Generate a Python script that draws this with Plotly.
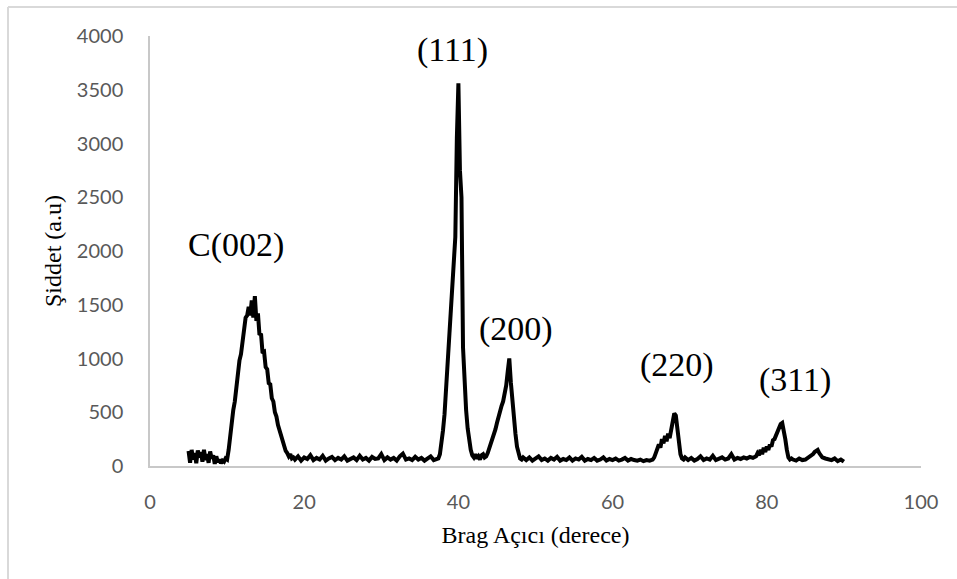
import plotly.graph_objects as go

# ---- data (2-theta in degrees, intensity in a.u.) ----
two_theta_a = [5.0, 5.2, 5.4, 5.6, 5.8, 6.0, 6.2, 6.4, 6.6, 6.8, 7.0, 7.2, 7.4, 7.6, 7.8,
               8.0, 8.2, 8.4, 8.6, 8.8, 9.0, 9.2, 9.4, 9.6, 9.8]
intensity_a = [140, 30, 150, 60, 120, 25, 145, 80, 130, 40, 150, 55, 110, 30, 135,
               70, 100, 20, 90, 35, 60, 25, 50, 40, 70]

two_theta_c002 = [10.0, 10.2, 10.4, 10.6, 10.8, 11.0, 11.2, 11.4, 11.6, 11.8, 12.0, 12.2,
                  12.4, 12.6, 12.8, 13.0, 13.2, 13.4, 13.6, 13.8, 14.0, 14.2, 14.4, 14.6,
                  14.8, 15.0, 15.2, 15.4, 15.6, 15.8, 16.0, 16.2, 16.4, 16.6, 16.8, 17.0,
                  17.2, 17.4, 17.6, 17.8, 18.0, 18.2, 18.4, 18.6]
intensity_c002 = [60, 150, 300, 380, 520, 600, 760, 820, 980, 1040, 1180, 1230,
                  1380, 1400, 1480, 1400, 1540, 1380, 1580, 1350, 1420, 1220, 1230, 1050,
                  1060, 920, 900, 770, 760, 630, 600, 500, 460, 380, 330, 270,
                  220, 180, 140, 120, 90, 110, 70, 80]

two_theta_b1 = [18.8, 19.2, 19.6, 20.0, 20.4, 20.8, 21.2, 21.6, 22.0, 22.4, 22.8, 23.2,
                23.6, 24.0, 24.4, 24.8, 25.2, 25.6, 26.0, 26.4, 26.8, 27.2, 27.6, 28.0,
                28.4, 28.8, 29.2, 29.6, 30.0, 30.4, 30.8, 31.2, 31.6, 32.0, 32.4, 32.8,
                33.2, 33.6, 34.0, 34.4, 34.8, 35.2, 35.6, 36.0, 36.4, 36.8, 37.2]
intensity_b1 = [60, 90, 50, 80, 65, 100, 55, 75, 60, 95, 50, 70,
                85, 55, 75, 60, 90, 50, 70, 80, 55, 95, 60, 75,
                50, 85, 65, 70, 110, 55, 80, 60, 75, 50, 90, 115,
                60, 70, 55, 85, 60, 75, 50, 70, 90, 55, 65]

two_theta_111 = [37.4, 37.6, 37.8, 38.0, 38.2, 38.4, 38.6, 38.8, 39.0, 39.2, 39.4, 39.6,
                 39.8, 40.0, 40.2, 40.4, 40.6, 40.8, 41.0, 41.2, 41.4, 41.6, 41.8, 42.0,
                 42.2, 42.4, 42.6, 42.8, 43.0, 43.2, 43.4, 43.6, 43.8, 44.0, 44.2, 44.4]
intensity_111 = [70, 110, 200, 330, 480, 700, 950, 1180, 1350, 1650, 1850, 2130,
                 3050, 3560, 2750, 2500, 1100, 700, 520, 350, 220, 150, 100, 80,
                 110, 70, 90, 60, 100, 110, 80, 90, 120, 160, 200, 250]

two_theta_200 = [44.6, 44.8, 45.0, 45.2, 45.4, 45.6, 45.8, 46.0, 46.2, 46.4, 46.6, 46.8,
                 47.0, 47.2, 47.4, 47.6, 47.8, 48.0, 48.2, 48.4]
intensity_200 = [290, 340, 400, 460, 500, 560, 600, 660, 750, 880, 1000, 780,
                 600, 420, 300, 180, 110, 70, 60, 80]

two_theta_b2 = [48.8, 49.2, 49.6, 50.0, 50.4, 50.8, 51.2, 51.6, 52.0, 52.4, 52.8, 53.2,
                53.6, 54.0, 54.4, 54.8, 55.2, 55.6, 56.0, 56.4, 56.8, 57.2, 57.6, 58.0,
                58.4, 58.8, 59.2, 59.6, 60.0, 60.4, 60.8, 61.2, 61.6, 62.0, 62.4, 62.8,
                63.2, 63.6, 64.0, 64.4, 64.8, 65.2]
intensity_b2 = [55, 80, 50, 65, 90, 55, 70, 50, 75, 60, 85, 50,
                65, 55, 80, 50, 70, 60, 85, 50, 65, 55, 75, 50,
                60, 80, 50, 65, 55, 70, 50, 60, 75, 50, 65, 55,
                50, 60, 45, 55, 50, 60]

two_theta_220 = [65.4, 65.6, 65.8, 66.0, 66.2, 66.4, 66.6, 66.8, 67.0, 67.2, 67.4, 67.6,
                 67.8, 68.0, 68.2, 68.4, 68.6, 68.8, 69.0, 69.2, 69.4]
intensity_220 = [80, 120, 150, 200, 170, 250, 210, 280, 230, 300, 260, 340,
                 420, 490, 470, 330, 200, 110, 70, 60, 80]

two_theta_b3 = [69.8, 70.2, 70.6, 71.0, 71.4, 71.8, 72.2, 72.6, 73.0, 73.4, 73.8, 74.2,
                74.6, 75.0, 75.4, 75.8, 76.2, 76.6, 77.0, 77.4, 77.8, 78.2]
intensity_b3 = [55, 75, 50, 65, 90, 55, 70, 60, 95, 55, 65, 80,
                60, 70, 110, 60, 75, 65, 80, 70, 85, 75]

two_theta_311 = [78.6, 78.8, 79.0, 79.2, 79.4, 79.6, 79.8, 80.0, 80.2, 80.4, 80.6, 80.8,
                 81.0, 81.2, 81.4, 81.6, 81.8, 82.0, 82.2, 82.4, 82.6, 82.8, 83.0, 83.2]
intensity_311 = [90, 120, 100, 150, 110, 170, 130, 180, 150, 200, 180, 240,
                 250, 290, 330, 370, 390, 400, 340, 250, 150, 80, 60, 70]

two_theta_end = [83.4, 83.8, 84.2, 84.6, 85.0, 85.4, 85.8, 86.0, 86.2, 86.4, 86.6, 86.8,
                 87.0, 87.2, 87.6, 88.0, 88.4, 88.8, 89.2, 89.6, 90.0]
intensity_end = [60, 50, 70, 55, 60, 80, 90, 110, 130, 140, 150, 120,
                 100, 80, 70, 60, 55, 70, 45, 60, 40]

peak_labels = ["C(002)", "(111)", "(200)", "(220)", "(311)"]
label_x = [11.2, 39.2, 47.5, 68.4, 83.6]
label_y = [2060, 3870, 1270, 940, 800]

x_ticks = [0, 20, 40, 60, 80, 100]
y_ticks = [0, 500, 1000, 1500, 2000, 2500, 3000, 3500, 4000]

two_theta = (two_theta_a + two_theta_c002 + two_theta_b1 + two_theta_111 + two_theta_200
             + two_theta_b2 + two_theta_220 + two_theta_b3 + two_theta_311 + two_theta_end)
intensity = (intensity_a + intensity_c002 + intensity_b1 + intensity_111 + intensity_200
             + intensity_b2 + intensity_220 + intensity_b3 + intensity_311 + intensity_end)

fig = go.Figure()
fig.add_trace(go.Scatter(x=two_theta, y=intensity, mode="lines",
                         line=dict(color="black", width=4), showlegend=False))

for t, xv, yv in zip(peak_labels, label_x, label_y):
    fig.add_annotation(x=xv, y=yv, text=t, showarrow=False,
                       font=dict(family="Liberation Serif", size=34, color="black"))

W, H = 957, 579
L, R, T, B = 150, 36, 36, 113
pw, ph = W - L - R, H - T - B

# outer chart border (left and top edges visible in the crop)
bx = (8 - L) / pw
by = 1 + (T - 7) / ph
fig.add_shape(type="line", xref="paper", yref="paper", x0=bx, x1=bx, y0=-(B + 5) / ph, y1=by,
              line=dict(color="#d9d9d9", width=2))
fig.add_shape(type="line", xref="paper", yref="paper", x0=bx, x1=(W - L + 5) / pw, y0=by, y1=by,
              line=dict(color="#d9d9d9", width=2))

tick_font = dict(family="Lato", size=20, color="#595959")
fig.update_xaxes(range=[0, 100], tickvals=x_ticks, showgrid=False, zeroline=False,
                 showline=True, linecolor="#c8c8c8", linewidth=1.5, ticks="",
                 tickfont=tick_font, ticklabelstandoff=17,
                 title=dict(text="Brag Açıcı (derece)", standoff=14,
                            font=dict(family="Liberation Serif", size=24, color="black")))
fig.update_yaxes(range=[0, 4000], tickvals=y_ticks, showgrid=False, zeroline=False,
                 showline=True, linecolor="#c8c8c8", linewidth=1.5, ticks="",
                 tickfont=tick_font, ticklabelstandoff=21,
                 title=dict(text="Şiddet (a.u)", standoff=8,
                            font=dict(family="Liberation Serif", size=24, color="black")))
fig.update_layout(width=W, height=H, margin=dict(l=L, r=R, t=T, b=B, autoexpand=False),
                  paper_bgcolor="white", plot_bgcolor="white")
fig.write_html("out.html")
